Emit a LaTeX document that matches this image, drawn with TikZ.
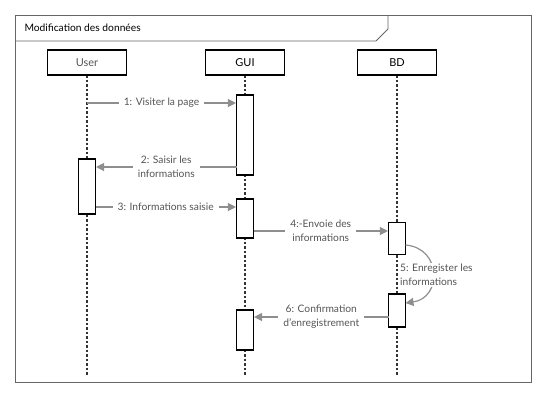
\documentclass[tikz,border=0pt]{standalone}
\usepackage{fontspec}
\setmainfont{Lato}
\usetikzlibrary{arrows.meta}

\definecolor{msggray}{HTML}{8E8E8E}
\definecolor{txtgray}{HTML}{555555}

\tikzset{
  head/.style={draw, line width=1.1bp, fill=white, minimum width=79bp, minimum height=25bp, inner sep=0pt, font=\fontsize{11}{13}\selectfont},
  act/.style={draw, line width=1.1bp, fill=white, minimum width=17bp, inner sep=0pt},
  life/.style={draw=black!80, line width=1.1bp, dash pattern=on 2.5bp off 2bp},
  msg/.style={draw=msggray, line width=1.2bp, -{Triangle[length=8bp,width=8bp]}},
  lbl/.style={fill=white, text=txtgray, inner xsep=5bp, inner ysep=1bp, align=center, font=\fontsize{10.3}{14}\selectfont}
}

\begin{document}
\begin{tikzpicture}[x=1bp, y=-1bp]
  \useasboundingbox (0,0) rectangle (550,400);

  % Frame
  \draw[black!60, line width=0.9bp] (15,15) rectangle (531,382);
  \draw[black!60, line width=0.9bp] (15,41) -- (376,41) -- (388,29) -- (388,15);
  \node[anchor=west, font=\fontsize{10.3}{12}\selectfont] (title) at (21,28) {Modification des données};

  % Lifelines
  \foreach \n/\x/\t in {user/87/{\color{txtgray}User}, gui/245/GUI, bd/397/BD} {
    \coordinate (\n end) at (\x,375);
    \draw[life] (\x,75) -- (\n end);
    \node[head] (\n) at (\x,62.5) {\t};
  }

  % Activations
  \node[act, minimum height=80bp] (ga1) at (245,135) {};
  \node[act, minimum height=55bp] (ua1) at (87,186.5) {};
  \node[act, minimum height=39bp] (ga2) at (245,218.5) {};
  \node[act, minimum height=32bp] (ba1) at (397,238.5) {};
  \node[act, minimum height=33bp] (ba2) at (397,310.5) {};
  \node[act, minimum height=40bp] (ga3) at (245,330) {};

  % Messages
  \coordinate (m1) at (87,103);
  \draw[msg] (m1) -- node[lbl] {1: Visiter la page} (ga1.west |- m1);
  \coordinate (m2) at (236.5,167);
  \draw[msg] (m2) -- node[lbl] {2: Saisir les\\informations} (ua1.east |- m2);
  \coordinate (m3) at (95.5,207);
  \draw[msg] (m3) -- node[lbl] {3: Informations saisie} (ga2.west |- m3);
  \coordinate (m4) at (253.5,231);
  \draw[msg] (m4) -- node[lbl] {4:-Envoie des\\informations} (ba1.west |- m4);
  \coordinate (m6) at (388.5,317);
  \draw[msg] (m6) -- node[lbl] {6: Confirmation\\d'enregistrement} (ga3.east |- m6);

  % Self message
  \coordinate (s5a) at (405.5,245);
  \coordinate (s5b) at (405.5,303);
  \draw[msg] (s5a) .. controls (442,248) and (442,298) .. (s5b);
  \node[lbl, anchor=west, align=left, inner xsep=1bp] (l5) at (399,275) {5: Enregister les\\informations};
\end{tikzpicture}
\end{document}
